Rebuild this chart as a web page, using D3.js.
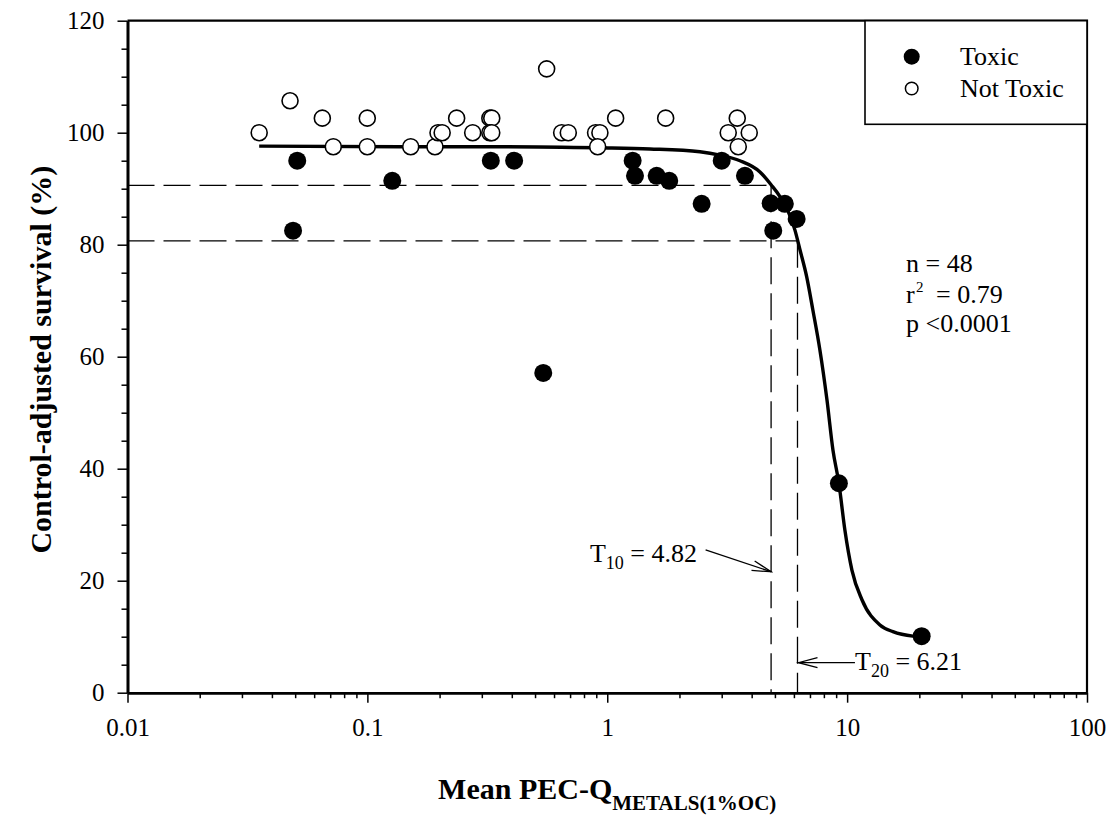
<!DOCTYPE html>
<html>
<head>
<meta charset="utf-8">
<script src="https://cdn.jsdelivr.net/npm/d3@7"></script>
<style>
  body { margin: 0; background: #fff; }
  svg text { font-family: "Liberation Serif", "Times New Roman", serif; fill: #000; }
</style>
</head>
<body>
<div id="chart"></div>
<script>
// Toxic samples (filled circles)
const toxicX = [0.051, 0.049, 0.127, 0.327, 0.409, 0.541, 1.276, 1.305, 1.607, 1.813, 2.475, 3.0, 3.75, 4.80, 4.92, 5.5, 6.16, 9.24, 20.45];
const toxicY = [95.0, 82.5, 91.4, 95.0, 95.0, 57.1, 95.0, 92.3, 92.3, 91.4, 87.3, 95.0, 92.3, 87.4, 82.5, 87.3, 84.6, 37.4, 10.1];

// Not toxic samples (open circles)
const notToxicX = [0.0354, 0.0476, 0.0649, 0.0721, 0.0999, 0.0999, 0.1516, 0.1913, 0.197, 0.205, 0.2356, 0.2748, 0.324, 0.33, 0.324, 0.33, 0.559, 0.6456, 0.688, 0.894, 0.932, 0.912, 1.084, 1.752, 3.483, 3.194, 3.908, 3.517];
const notToxicY = [100, 105.7, 102.6, 97.5, 102.6, 97.5, 97.5, 97.5, 100, 100, 102.6, 100, 102.6, 102.6, 100, 100, 111.4, 100, 100, 100, 100, 97.5, 102.6, 102.6, 102.6, 100, 100, 97.5];

// fitted curve
const fitX = [0.0354, 0.137, 0.357, 0.932, 1.507, 2.435, 2.95, 3.574, 4.33, 4.82, 5.248, 5.682, 6.06, 6.359, 6.781, 7.20, 7.70, 8.24, 8.73, 9.24, 9.79, 10.47, 11.53, 13.70, 15.52, 18.8, 20.45];
const fitY = [97.6, 97.5, 97.5, 97.3, 97.1, 96.6, 96.0, 95.0, 93.0, 90.7, 88.6, 85.9, 82.6, 79.1, 74.3, 68.3, 61.2, 52.3, 43.3, 37.4, 29.0, 21.9, 16.6, 12.1, 10.9, 10.1, 10.0];

// thresholds
const thresholdX = [4.82, 6.21];
const thresholdY = [90.6, 80.7];

const xTicks = [0.01, 0.1, 1, 10, 100];
const xTickLabels = ["0.01", "0.1", "1", "10", "100"];
const yTicks = [0, 20, 40, 60, 80, 100, 120];

const W = 1112, H = 817;
const margin = { top: 20.7, right: 25, bottom: 124.3, left: 127.5 };

const svg = d3.select("#chart").append("svg")
  .attr("width", W)
  .attr("height", H);

const x = d3.scaleLog().domain([0.01, 100]).range([margin.left, W - margin.right]);
const y = d3.scaleLinear().domain([0, 120]).range([H - margin.bottom, margin.top]);

// frame (top + right)
svg.append("path")
  .attr("d", `M${x(0.01)},${y(120)}H${x(100)}V${y(0)}`)
  .attr("fill", "none")
  .attr("stroke", "#000")
  .attr("stroke-width", 2.2);

// legend box
svg.append("rect")
  .attr("x", 865).attr("y", y(120))
  .attr("width", x(100) - 865).attr("height", 103.6)
  .attr("fill", "#fff")
  .attr("stroke", "#000")
  .attr("stroke-width", 1.6);

// dashed guide lines
const dash = "27,9";
thresholdX.forEach((tx, i) => {
  svg.append("line")
    .attr("x1", x(0.01)).attr("x2", x(tx))
    .attr("y1", y(thresholdY[i])).attr("y2", y(thresholdY[i]))
    .attr("stroke", "#000").attr("stroke-width", 1.3)
    .attr("stroke-dasharray", dash);
  svg.append("line")
    .attr("x1", x(tx)).attr("x2", x(tx))
    .attr("y1", y(thresholdY[i])).attr("y2", y(0))
    .attr("stroke", "#000").attr("stroke-width", 1.3)
    .attr("stroke-dasharray", dash);
});

// fitted curve
const fit = fitX.map((d, i) => [d, fitY[i]]);
svg.append("path")
  .datum(fit)
  .attr("fill", "none")
  .attr("stroke", "#000")
  .attr("stroke-width", 3.4)
  .attr("d", d3.line().x(d => x(d[0])).y(d => y(d[1])).curve(d3.curveMonotoneX));

// points
svg.selectAll(".toxic")
  .data(toxicX.map((d, i) => [d, toxicY[i]]))
  .enter().append("circle")
  .attr("class", "toxic")
  .attr("cx", d => x(d[0]))
  .attr("cy", d => y(d[1]))
  .attr("r", 9)
  .attr("fill", "#000");

svg.selectAll(".nottoxic")
  .data(notToxicX.map((d, i) => [d, notToxicY[i]]))
  .enter().append("circle")
  .attr("class", "nottoxic")
  .attr("cx", d => x(d[0]))
  .attr("cy", d => y(d[1]))
  .attr("r", 8)
  .attr("fill", "#fff")
  .attr("stroke", "#000")
  .attr("stroke-width", 1.6);

// axes
svg.append("g")
  .attr("transform", `translate(0,${y(0)})`)
  .call(d3.axisBottom(x).tickValues(xTicks).tickSize(10).tickSizeOuter(0).tickPadding(16)
    .tickFormat((d, i) => xTickLabels[i]));

const minorX = [];
[0.01, 0.1, 1, 10].forEach(dec => { for (let k = 2; k <= 9; k++) minorX.push(dec * k); });
svg.append("g")
  .attr("transform", `translate(0,${y(0)})`)
  .call(d3.axisBottom(x).tickValues(minorX).tickSize(5.5).tickSizeOuter(0).tickFormat(""));

svg.append("g")
  .attr("transform", `translate(${x(0.01)},0)`)
  .call(d3.axisLeft(y).tickValues(yTicks).tickSize(10).tickSizeOuter(0).tickPadding(13));

svg.append("g")
  .attr("transform", `translate(${x(0.01)},0)`)
  .call(d3.axisLeft(y).tickValues(d3.range(5, 120, 5).filter(d => d % 20 !== 0)).tickSize(6).tickSizeOuter(0).tickFormat(""));

svg.selectAll(".domain").attr("stroke", "#000").attr("stroke-width", 2.6);
svg.selectAll(".tick line").attr("stroke", "#000").attr("stroke-width", 1.5);
svg.selectAll(".tick text")
  .style("font-family", '"Liberation Serif", "Times New Roman", serif')
  .style("font-size", "25px")
  .attr("fill", "#000");

// axis titles
svg.append("text")
  .attr("transform", `translate(51,${(y(0) + y(120)) / 2 + 3}) rotate(-90)`)
  .attr("text-anchor", "middle")
  .style("font-size", "30px")
  .style("font-weight", "bold")
  .text("Control-adjusted survival (%)");

const xt = svg.append("text")
  .attr("x", (x(0.01) + x(100)) / 2)
  .attr("y", 799)
  .attr("text-anchor", "middle")
  .style("font-size", "30px")
  .style("font-weight", "bold");
xt.append("tspan").text("Mean PEC-Q");
xt.append("tspan").attr("dy", 11).style("font-size", "21px").text("METALS(1%OC)");

// legend
svg.append("circle").attr("cx", 911.7).attr("cy", 56.7).attr("r", 8).attr("fill", "#000");
svg.append("circle").attr("cx", 911.7).attr("cy", 88.5).attr("r", 6.3)
  .attr("fill", "#fff").attr("stroke", "#000").attr("stroke-width", 1.5);
svg.append("text").attr("x", 960).attr("y", 65).style("font-size", "26px").text("Toxic");
svg.append("text").attr("x", 960).attr("y", 97).style("font-size", "26px").text("Not Toxic");

// stats
svg.append("text").attr("x", 906).attr("y", 272).style("font-size", "26px").text("n = 48");
svg.append("text").attr("x", 906).attr("y", 303).style("font-size", "26px").text("r");
svg.append("text").attr("x", 916).attr("y", 292).style("font-size", "15px").text("2");
svg.append("text").attr("x", 936).attr("y", 303).style("font-size", "26px").text("= 0.79");
svg.append("text").attr("x", 906).attr("y", 332).style("font-size", "26px").text("p <0.0001");

// threshold arrows
svg.append("defs").append("marker")
  .attr("id", "openArrow")
  .attr("viewBox", "-20 -6 22 12")
  .attr("refX", 0).attr("refY", 0)
  .attr("markerWidth", 22).attr("markerHeight", 12)
  .attr("markerUnits", "userSpaceOnUse")
  .attr("orient", "auto")
  .append("path")
  .attr("d", "M-19,-5L0,0L-19,5")
  .attr("fill", "none")
  .attr("stroke", "#000")
  .attr("stroke-width", 1.3);

svg.append("line")
  .attr("x1", x(2.57)).attr("y1", y(25.5))
  .attr("x2", x(4.82)).attr("y2", y(21.6))
  .attr("stroke", "#000").attr("stroke-width", 1.3)
  .attr("marker-end", "url(#openArrow)");

svg.append("line")
  .attr("x1", x(10.78)).attr("y1", y(5.36))
  .attr("x2", x(6.21) + 1).attr("y2", y(5.36))
  .attr("stroke", "#000").attr("stroke-width", 1.3)
  .attr("marker-end", "url(#openArrow)");

const t10 = svg.append("text").attr("x", 697).attr("y", 561.7)
  .attr("text-anchor", "end").style("font-size", "26px");
t10.append("tspan").text("T");
t10.append("tspan").attr("dy", 7).style("font-size", "18px").text("10");
t10.append("tspan").attr("dy", -7).text(" = 4.82");

const t20 = svg.append("text").attr("x", 855).attr("y", 670).style("font-size", "26px");
t20.append("tspan").text("T");
t20.append("tspan").attr("dy", 7).style("font-size", "18px").text("20");
t20.append("tspan").attr("dy", -7).text(" = 6.21");
</script>
</body>
</html>
